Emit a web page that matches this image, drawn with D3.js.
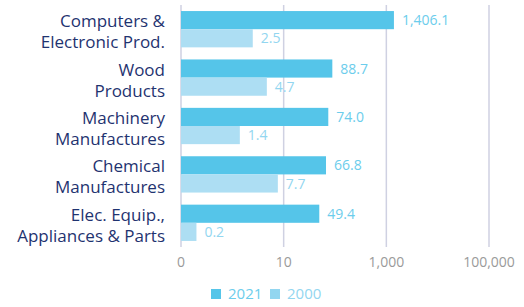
<!DOCTYPE html>
<html lang="en">
<head>
<meta charset="UTF-8">
<title>Exports growth</title>
<script src="https://d3js.org/d3.v7.min.js"></script>
<style>
  body { margin: 0; background: #fff; }
  svg { display: block; font-family: "Open Sans", sans-serif; }
</style>
</head>
<body>
<svg width="524" height="307"></svg>
<script>
    // categories, two lines each
    const categories = [
        ["Computers &", "Electronic Prod."],
        ["Wood", "Products"],
        ["Machinery", "Manufactures"],
        ["Chemical", "Manufactures"],
        ["Elec. Equip.,", "Appliances & Parts"]
    ];
    const series = ["2021", "2000"];
    const values2021 = [1406.1, 88.7, 74.0, 66.8, 49.4];
    const values2000 = [2.5, 4.7, 1.4, 7.7, 0.2];
    const tickValues = [0.1, 10, 1000, 100000];

    const colors = { "2021": "#55c5e9", "2000": "#addef3" };

    const svg = d3.select("svg");
    const margin = { top: 5, left: 181, right: 35, bottom: 60 };
    const width = 524, height = 307;

    const x = d3.scaleLog()
        .domain([0.1, 100000])
        .range([margin.left, width - margin.right]);

    const y = d3.scaleBand()
        .domain(d3.range(categories.length))
        .range([margin.top, height - margin.bottom])
        .paddingInner(0.25)
        .paddingOuter(0.125);

    const sub = d3.scaleBand()
        .domain(series)
        .range([0, y.bandwidth()]);

    // gridlines
    svg.append("g")
        .selectAll("line")
        .data(tickValues)
        .join("line")
        .attr("x1", d => x(d))
        .attr("x2", d => x(d))
        .attr("y1", margin.top)
        .attr("y2", height - margin.bottom)
        .attr("stroke", "#cfd1e2")
        .attr("stroke-width", 1.5);

    // tick labels
    const fmt = d3.format(",.0f");
    svg.append("g")
        .selectAll("text")
        .data(tickValues)
        .join("text")
        .attr("x", d => x(d))
        .attr("y", height - margin.bottom + 20)
        .attr("text-anchor", "middle")
        .attr("fill", "#9a9a9a")
        .attr("font-size", 14)
        .text(d => fmt(d));

    // bars
    const rows = categories.map((c, i) => ({
        i, "2021": values2021[i], "2000": values2000[i]
    }));

    const group = svg.append("g")
        .selectAll("g")
        .data(rows)
        .join("g")
        .attr("transform", d => `translate(0,${y(d.i)})`);

    group.selectAll("rect")
        .data(d => series.map(s => ({ s, v: d[s] })))
        .join("rect")
        .attr("x", x(0.1))
        .attr("y", d => sub(d.s))
        .attr("width", d => x(d.v) - x(0.1))
        .attr("height", sub.bandwidth())
        .attr("fill", d => colors[d.s]);

    const valFmt = d3.format(",.1f");
    group.selectAll("text")
        .data(d => series.map(s => ({ s, v: d[s] })))
        .join("text")
        .attr("x", d => x(d.v) + 8)
        .attr("y", d => sub(d.s) + sub.bandwidth() / 2)
        .attr("dy", "0.36em")
        .attr("fill", d => d.s === "2021" ? "#6ccdec" : "#92d6f0")
        .attr("font-size", 14)
        .text(d => valFmt(d.v));

    // category labels
    const cat = svg.append("g")
        .selectAll("text")
        .data(categories)
        .join("text")
        .attr("text-anchor", "end")
        .attr("fill", "#1f3370")
        .attr("font-size", 17);

    cat.selectAll("tspan")
        .data((d, i) => d.map((t, k) => ({ t, k, i })))
        .join("tspan")
        .attr("x", margin.left - 16)
        .attr("y", d => y(d.i) + y.bandwidth() / 2 + (d.k === 0 ? -2 : 19))
        .text(d => d.t);

    // legend
    const legend = svg.append("g")
        .attr("transform", `translate(211, 294)`);
    const item = legend.selectAll("g")
        .data(series)
        .join("g")
        .attr("transform", (d, i) => `translate(${i * 59},0)`);
    item.append("rect")
        .attr("x", 0).attr("y", -5)
        .attr("width", 10).attr("height", 10)
        .attr("fill", d => d === "2021" ? colors["2021"] : "#92d6f0");
    item.append("text")
        .attr("x", 17)
        .attr("dy", "0.36em")
        .attr("fill", d => d === "2021" ? "#6ccdec" : "#92d6f0")
        .attr("font-size", 15)
        .text(d => d);
</script>
</body>
</html>
